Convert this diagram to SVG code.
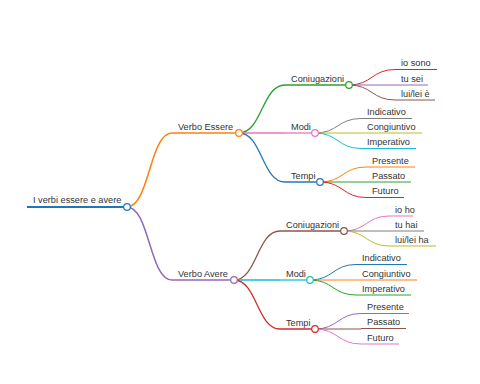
<svg xmlns="http://www.w3.org/2000/svg" width="480" height="384" viewBox="0 0 480 384">
<style>
text{font-family:"Liberation Sans",Arial,sans-serif;font-size:9.2px;fill:#333}
path,line{fill:none}
.l0{stroke-width:2}
.l1{stroke-width:1.5}
.l2{stroke-width:1.3}
.l3{stroke-width:1}
circle{fill:#fff;stroke-width:1.2}
.c0{stroke:#1f77b4}.c1{stroke:#ff7f0e}.c2{stroke:#2ca02c}.c3{stroke:#d62728}.c4{stroke:#9467bd}
.c5{stroke:#8c564b}.c6{stroke:#e377c2}.c7{stroke:#7f7f7f}.c8{stroke:#bcbd22}.c9{stroke:#17becf}
</style>
<rect width="480" height="384" fill="#fff"/>
<g id="connectors">
<path class="l1 c1" d="M127,207 C149.5,207 149.5,133 172,133"/>
<path class="l1 c4" d="M127,207 C149.5,207 149.5,280 172,280"/>
<path class="l2 c2" d="M239,133 C262,133 262,85 285,85"/>
<path class="l2 c6" d="M239,133 L285,133"/>
<path class="l2 c0" d="M239,133 C262,133 262,182 285,182"/>
<path class="l3 c3" d="M349,85 C372,85 372,69.5 395,69.5"/>
<path class="l3 c4" d="M349,85 L395,85"/>
<path class="l3 c5" d="M349,85 C372,85 372,100 395,100"/>
<path class="l3 c7" d="M315,133 C338,133 338,118.5 361,118.5"/>
<path class="l3 c8" d="M315,133 L361,133"/>
<path class="l3 c9" d="M315,133 C338,133 338,148.5 361,148.5"/>
<path class="l3 c1" d="M320,182 C343,182 343,167 366,167"/>
<path class="l3 c2" d="M320,182 L366,182"/>
<path class="l3 c3" d="M320,182 C343,182 343,197.5 366,197.5"/>
<path class="l2 c5" d="M234,280 C257,280 257,231 280,231"/>
<path class="l2 c9" d="M234,280 L280,280"/>
<path class="l2 c3" d="M234,280 C257,280 257,329 280,329"/>
<path class="l3 c6" d="M344,231 C366.5,231 366.5,216 389,216"/>
<path class="l3 c7" d="M344,231 L389,231"/>
<path class="l3 c8" d="M344,231 C366.5,231 366.5,246 389,246"/>
<path class="l3 c0" d="M310,280 C333,280 333,264.5 356,264.5"/>
<path class="l3 c1" d="M310,280 L356,280"/>
<path class="l3 c2" d="M310,280 C333,280 333,295 356,295"/>
<path class="l3 c4" d="M315,329 C338,329 338,313.5 361,313.5"/>
<path class="l3 c5" d="M315,329 L361,329"/>
<path class="l3 c6" d="M315,329 C338,329 338,344 361,344"/>
</g>
<g id="root"><line class="l0 c0" x1="27" y1="207" x2="127" y2="207"/><text x="33" y="203">I verbi essere e avere</text><circle class="c0" cx="127" cy="207" r="3.3"/></g>
<g id="verbo-essere"><line class="l1 c1" x1="172" y1="133" x2="239" y2="133"/><text x="178" y="129.5">Verbo Essere</text><circle class="c1" cx="239" cy="133" r="3.3"/></g>
<g id="e-coniugazioni"><line class="l2 c2" x1="285" y1="85" x2="349" y2="85"/><text x="291" y="81.5">Coniugazioni</text><circle class="c2" cx="349" cy="85" r="3.3"/></g>
<g id="e-io-sono"><line class="l3 c3" x1="395" y1="69.5" x2="437" y2="69.5"/><text x="401" y="66">io sono</text></g>
<g id="e-tu-sei"><line class="l3 c4" x1="395" y1="85" x2="428" y2="85"/><text x="401" y="81.5">tu sei</text></g>
<g id="e-lui-lei"><line class="l3 c5" x1="395" y1="100" x2="435" y2="100"/><text x="401" y="96.5">lui/lei è</text></g>
<g id="e-modi"><line class="l2 c6" x1="285" y1="133" x2="315" y2="133"/><text x="291" y="129.5">Modi</text><circle class="c6" cx="315" cy="133" r="3.3"/></g>
<g id="e-indicativo"><line class="l3 c7" x1="361" y1="118.5" x2="412" y2="118.5"/><text x="367" y="115">Indicativo</text></g>
<g id="e-congiuntivo"><line class="l3 c8" x1="361" y1="133" x2="422" y2="133"/><text x="367" y="129.5">Congiuntivo</text></g>
<g id="e-imperativo"><line class="l3 c9" x1="361" y1="148.5" x2="416" y2="148.5"/><text x="367" y="145">Imperativo</text></g>
<g id="e-tempi"><line class="l2 c0" x1="285" y1="182" x2="320" y2="182"/><text x="291" y="178.5">Tempi</text><circle class="c0" cx="320" cy="182" r="3.3"/></g>
<g id="e-presente"><line class="l3 c1" x1="366" y1="167" x2="415" y2="167"/><text x="372" y="163.5">Presente</text></g>
<g id="e-passato"><line class="l3 c2" x1="366" y1="182" x2="411" y2="182"/><text x="372" y="178.5">Passato</text></g>
<g id="e-futuro"><line class="l3 c3" x1="366" y1="197.5" x2="404" y2="197.5"/><text x="372" y="194">Futuro</text></g>
<g id="verbo-avere"><line class="l1 c4" x1="172" y1="280" x2="234" y2="280"/><text x="178" y="276.5">Verbo Avere</text><circle class="c4" cx="234" cy="280" r="3.3"/></g>
<g id="a-coniugazioni"><line class="l2 c5" x1="280" y1="231" x2="344" y2="231"/><text x="286" y="227.5">Coniugazioni</text><circle class="c5" cx="344" cy="231" r="3.3"/></g>
<g id="a-io-ho"><line class="l3 c6" x1="389" y1="216" x2="413" y2="216"/><text x="395" y="212.5">io ho</text></g>
<g id="a-tu-hai"><line class="l3 c7" x1="389" y1="231" x2="424" y2="231"/><text x="395" y="227.5">tu hai</text></g>
<g id="a-lui-lei"><line class="l3 c8" x1="389" y1="246" x2="436" y2="246"/><text x="395" y="242.5">lui/lei ha</text></g>
<g id="a-modi"><line class="l2 c9" x1="280" y1="280" x2="310" y2="280"/><text x="286" y="276.5">Modi</text><circle class="c9" cx="310" cy="280" r="3.3"/></g>
<g id="a-indicativo"><line class="l3 c0" x1="356" y1="264.5" x2="407" y2="264.5"/><text x="362" y="261">Indicativo</text></g>
<g id="a-congiuntivo"><line class="l3 c1" x1="356" y1="280" x2="417" y2="280"/><text x="362" y="276.5">Congiuntivo</text></g>
<g id="a-imperativo"><line class="l3 c2" x1="356" y1="295" x2="411" y2="295"/><text x="362" y="291.5">Imperativo</text></g>
<g id="a-tempi"><line class="l2 c3" x1="280" y1="329" x2="315" y2="329"/><text x="286" y="325.5">Tempi</text><circle class="c3" cx="315" cy="329" r="3.3"/></g>
<g id="a-presente"><line class="l3 c4" x1="361" y1="313.5" x2="409" y2="313.5"/><text x="367" y="310">Presente</text></g>
<g id="a-passato"><line class="l3 c5" x1="361" y1="328.5" x2="406" y2="328.5"/><text x="367" y="325">Passato</text></g>
<g id="a-futuro"><line class="l3 c6" x1="361" y1="344" x2="399" y2="344"/><text x="367" y="340.5">Futuro</text></g>
</svg>
